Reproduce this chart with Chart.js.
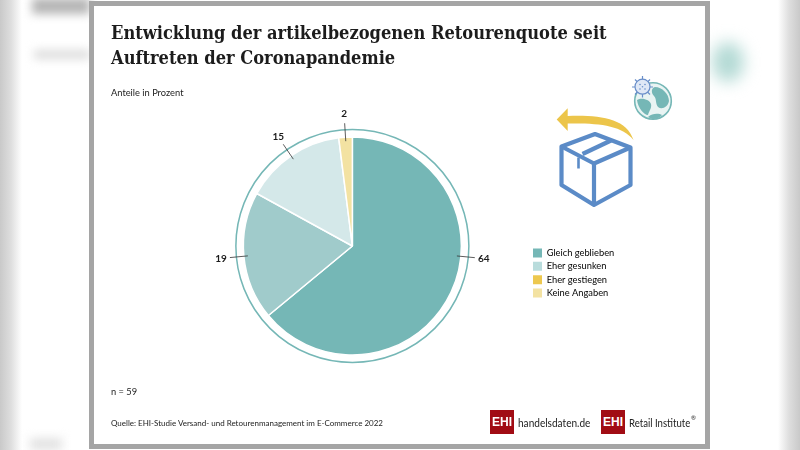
<!DOCTYPE html>
<html lang="de">
<head>
<meta charset="utf-8">
<title>Retourenquote</title>
<script src="https://cdn.jsdelivr.net/npm/chart.js@4/dist/chart.umd.min.js"></script>
<style>
    html, body { margin: 0; padding: 0; width: 800px; height: 450px; overflow: hidden; background: #fff; font-family: "Lato", sans-serif; color: #222; }
    .edge { position: absolute; top: 0; bottom: 0; width: 22px; }
    .edge.left { left: 0; background: linear-gradient(to right, #c9c9c9, #dedede 50%, #fff); }
    .edge.right { right: 0; background: linear-gradient(to left, #c9c9c9, #dedede 50%, #fff); }
    .blur { position: absolute; filter: blur(5px); }
    #card { position: absolute; left: 89px; top: 1px; width: 611px; height: 438px; background: #fff; border: 5.5px solid #a5a5a5; }
    #chart { position: absolute; left: 0; top: 0; }
    .t { position: absolute; white-space: nowrap; }
    h1 { position: absolute; left: 111px; top: 20px; margin: 0; font: bold 18.1px/25px "DejaVu Serif Condensed", "DejaVu Serif", serif; font-stretch: condensed; color: #1c1c1c; white-space: nowrap; }
    .small { font-size: 9.3px; }
    .logo { position: absolute; top: 410px; width: 24px; height: 24px; background: #a10c14; color: #fff; font: bold 12px/24px "Liberation Sans", sans-serif; text-align: center; }
    .logotext { position: absolute; top: 414px; font: 12px/18px "Lato", sans-serif; color: #222; white-space: nowrap; transform-origin: left center; }
    svg { position: absolute; left: 0; top: 0; }
</style>
</head>
<body>
<div class="edge left"></div>
<div class="edge right"></div>
<div class="blur" style="left:32px;top:-2px;width:58px;height:16px;background:#b5b5b5"></div>
<div class="blur" style="left:34px;top:50px;width:56px;height:9px;background:#dcdcdc"></div>
<div class="blur" style="left:30px;top:438px;width:32px;height:12px;background:#e2e2e2"></div>
<div class="blur" style="left:712px;top:42px;width:32px;height:40px;border-radius:50%;background:#b4dad5;filter:blur(8px)"></div>

<div id="card"></div>

<svg width="800" height="450" viewBox="0 0 800 450">
    <!-- Pfeil -->
    <path d="M556.7 119.5 L567.7 108.3 L567.7 116 C600 115 626 118 633.5 140 C622 125 598 123 567.7 123.5 L567.7 131 Z" fill="#ecc54a"/>
    <!-- Paket -->
    <g fill="none" stroke="#5b8bc7" stroke-width="4.2" stroke-linejoin="round">
        <path d="M595 134 L561.5 146.5 L561.5 185 L594 205 L630.5 185 L630.5 147.5 Z"/>
        <path d="M561.5 146.5 L594 163.5 L630.5 147.5"/>
        <path d="M594 163.5 L594 205"/>
        <path d="M611 140.5 L582.5 154"/>
        <path d="M578.5 157.5 L578.5 168.5" stroke-width="2.6"/>
    </g>
    <!-- Globus -->
    <circle cx="653" cy="101" r="18.3" fill="#e9f4f3" stroke="#75b7b6" stroke-width="1.6"/>
    <path d="M655 87 C662 87 669 94 669 101 C668 107 662 110 658 107 C655 103 657 99 654 96 C651 93 651 88 655 87 Z" fill="#75b7b6"/>
    <path d="M637 100 C642 97 650 100 651 104 C652 108 649 111 648 115 C644 115 638 108 637 100 Z" fill="#75b7b6"/>
    <path d="M648 117 C652 113 659 113 662 115 C658 120 652 120 648 117 Z" fill="#75b7b6"/>
    <!-- Virus -->
    <g stroke="#6a8fca" stroke-width="1.2">
        <path d="M642.5 76 V97.5 M632 87 H653 M635 79.5 L650 94.5 M650 79.5 L635 94.5"/>
    </g>
    <circle cx="642.5" cy="86.7" r="7.5" fill="#dfe8f6" stroke="#6a8fca" stroke-width="1.2"/>
    <g fill="#6a8fca">
        <circle cx="640" cy="84.5" r=".8"/><circle cx="645" cy="84.5" r=".8"/>
        <circle cx="640" cy="89" r=".8"/><circle cx="645" cy="89" r=".8"/>
        <circle cx="642.5" cy="86.7" r=".8"/>
    </g>
</svg>

<canvas id="chart" width="800" height="450"></canvas>

<h1>Entwicklung der artikelbezogenen Retourenquote seit<br>Auftreten der Coronapandemie</h1>
<div class="t small" style="left:111px;top:87px">Anteile in Prozent</div>
<div class="t small" style="left:111px;top:386px">n = 59</div>
<div class="t" style="left:111px;top:418px;font-size:8px">Quelle: EHI-Studie Versand- und Retourenmanagement im E-Commerce 2022</div>
<div class="logo" style="left:490px">EHI</div>
<div class="logotext" style="left:518px;transform:scaleX(.84)">handelsdaten.de</div>
<div class="logo" style="left:601px">EHI</div>
<div class="logotext" style="left:629px;transform:scaleX(.8)">Retail Institute</div>
<div class="t" style="left:691px;top:414px;font-size:6px">®</div>

<script>
const categories = ['Gleich geblieben', 'Eher gesunken', 'Eher gestiegen', 'Keine Angaben'];
const values = [64, 19, 15, 2];
const sliceColors = ['#75b7b6', '#a0cbcb', '#d4e8e9', '#f3e2a2'];
const legendColors = ['#75b7b6', '#b9dcdc', '#edc84f', '#f3e2a2'];

// Ring um den Kreis, Hinweislinien und Werte
const pieExtras = {
    id: 'pieExtras',
    afterLayout(chart) {
        // Legende an die Stelle rechts unten schieben
        const legend = chart.legend;
        const w = legend.right - legend.left;
        const h = legend.bottom - legend.top;
        legend.left = 529;
        legend.right = 529 + w;
        legend.top = 273 - h / 2;
        legend.bottom = 273 + h / 2;
    },
    afterDatasetsDraw(chart) {
        const ctx = chart.ctx;
        const arcs = chart.getDatasetMeta(0).data;
        const cx = arcs[0].x;
        const cy = arcs[0].y;
        const r = arcs[0].outerRadius;

        ctx.save();
        ctx.beginPath();
        ctx.arc(cx, cy, r + 7.5, 0, Math.PI * 2);
        ctx.strokeStyle = '#75b7b6';
        ctx.lineWidth = 1.5;
        ctx.stroke();

        ctx.font = 'bold 10px "Lato", sans-serif';
        ctx.textAlign = 'center';
        ctx.textBaseline = 'middle';
        arcs.forEach((arc, i) => {
            let angle = (arc.startAngle + arc.endAngle) / 2;
            // die 64 sitzt im Original fast waagerecht rechts
            if (i === 0) angle = 0.095;
            const dx = Math.cos(angle);
            const dy = Math.sin(angle);
            ctx.beginPath();
            ctx.moveTo(cx + dx * (r - 4), cy + dy * (r - 4));
            ctx.lineTo(cx + dx * (r + 14), cy + dy * (r + 14));
            ctx.strokeStyle = '#333';
            ctx.lineWidth = 0.8;
            ctx.stroke();
            ctx.fillStyle = '#1c1c1c';
            ctx.fillText(values[i], cx + dx * (r + 23), cy + dy * (r + 23));
        });
        ctx.restore();
    }
};

new Chart(document.getElementById('chart').getContext('2d'), {
    type: 'pie',
    data: {
        labels: categories,
        datasets: [{
            data: values,
            backgroundColor: sliceColors,
            borderColor: '#fff',
            borderWidth: 1.5,
            radius: 109
        }]
    },
    options: {
        responsive: false,
        animation: false,
        layout: { padding: { left: 232, right: 232, top: 126, bottom: 84 } },
        plugins: {
            tooltip: { enabled: false },
            legend: {
                position: 'right',
                labels: {
                    boxWidth: 9,
                    boxHeight: 9,
                    padding: 4,
                    color: '#222',
                    font: { family: 'Lato', size: 9.3 },
                    generateLabels: () => categories.map((text, i) => ({
                        text: text,
                        fillStyle: legendColors[i],
                        strokeStyle: legendColors[i],
                        lineWidth: 0,
                        index: i
                    }))
                }
            }
        }
    },
    plugins: [pieExtras]
});
</script>
</body>
</html>
